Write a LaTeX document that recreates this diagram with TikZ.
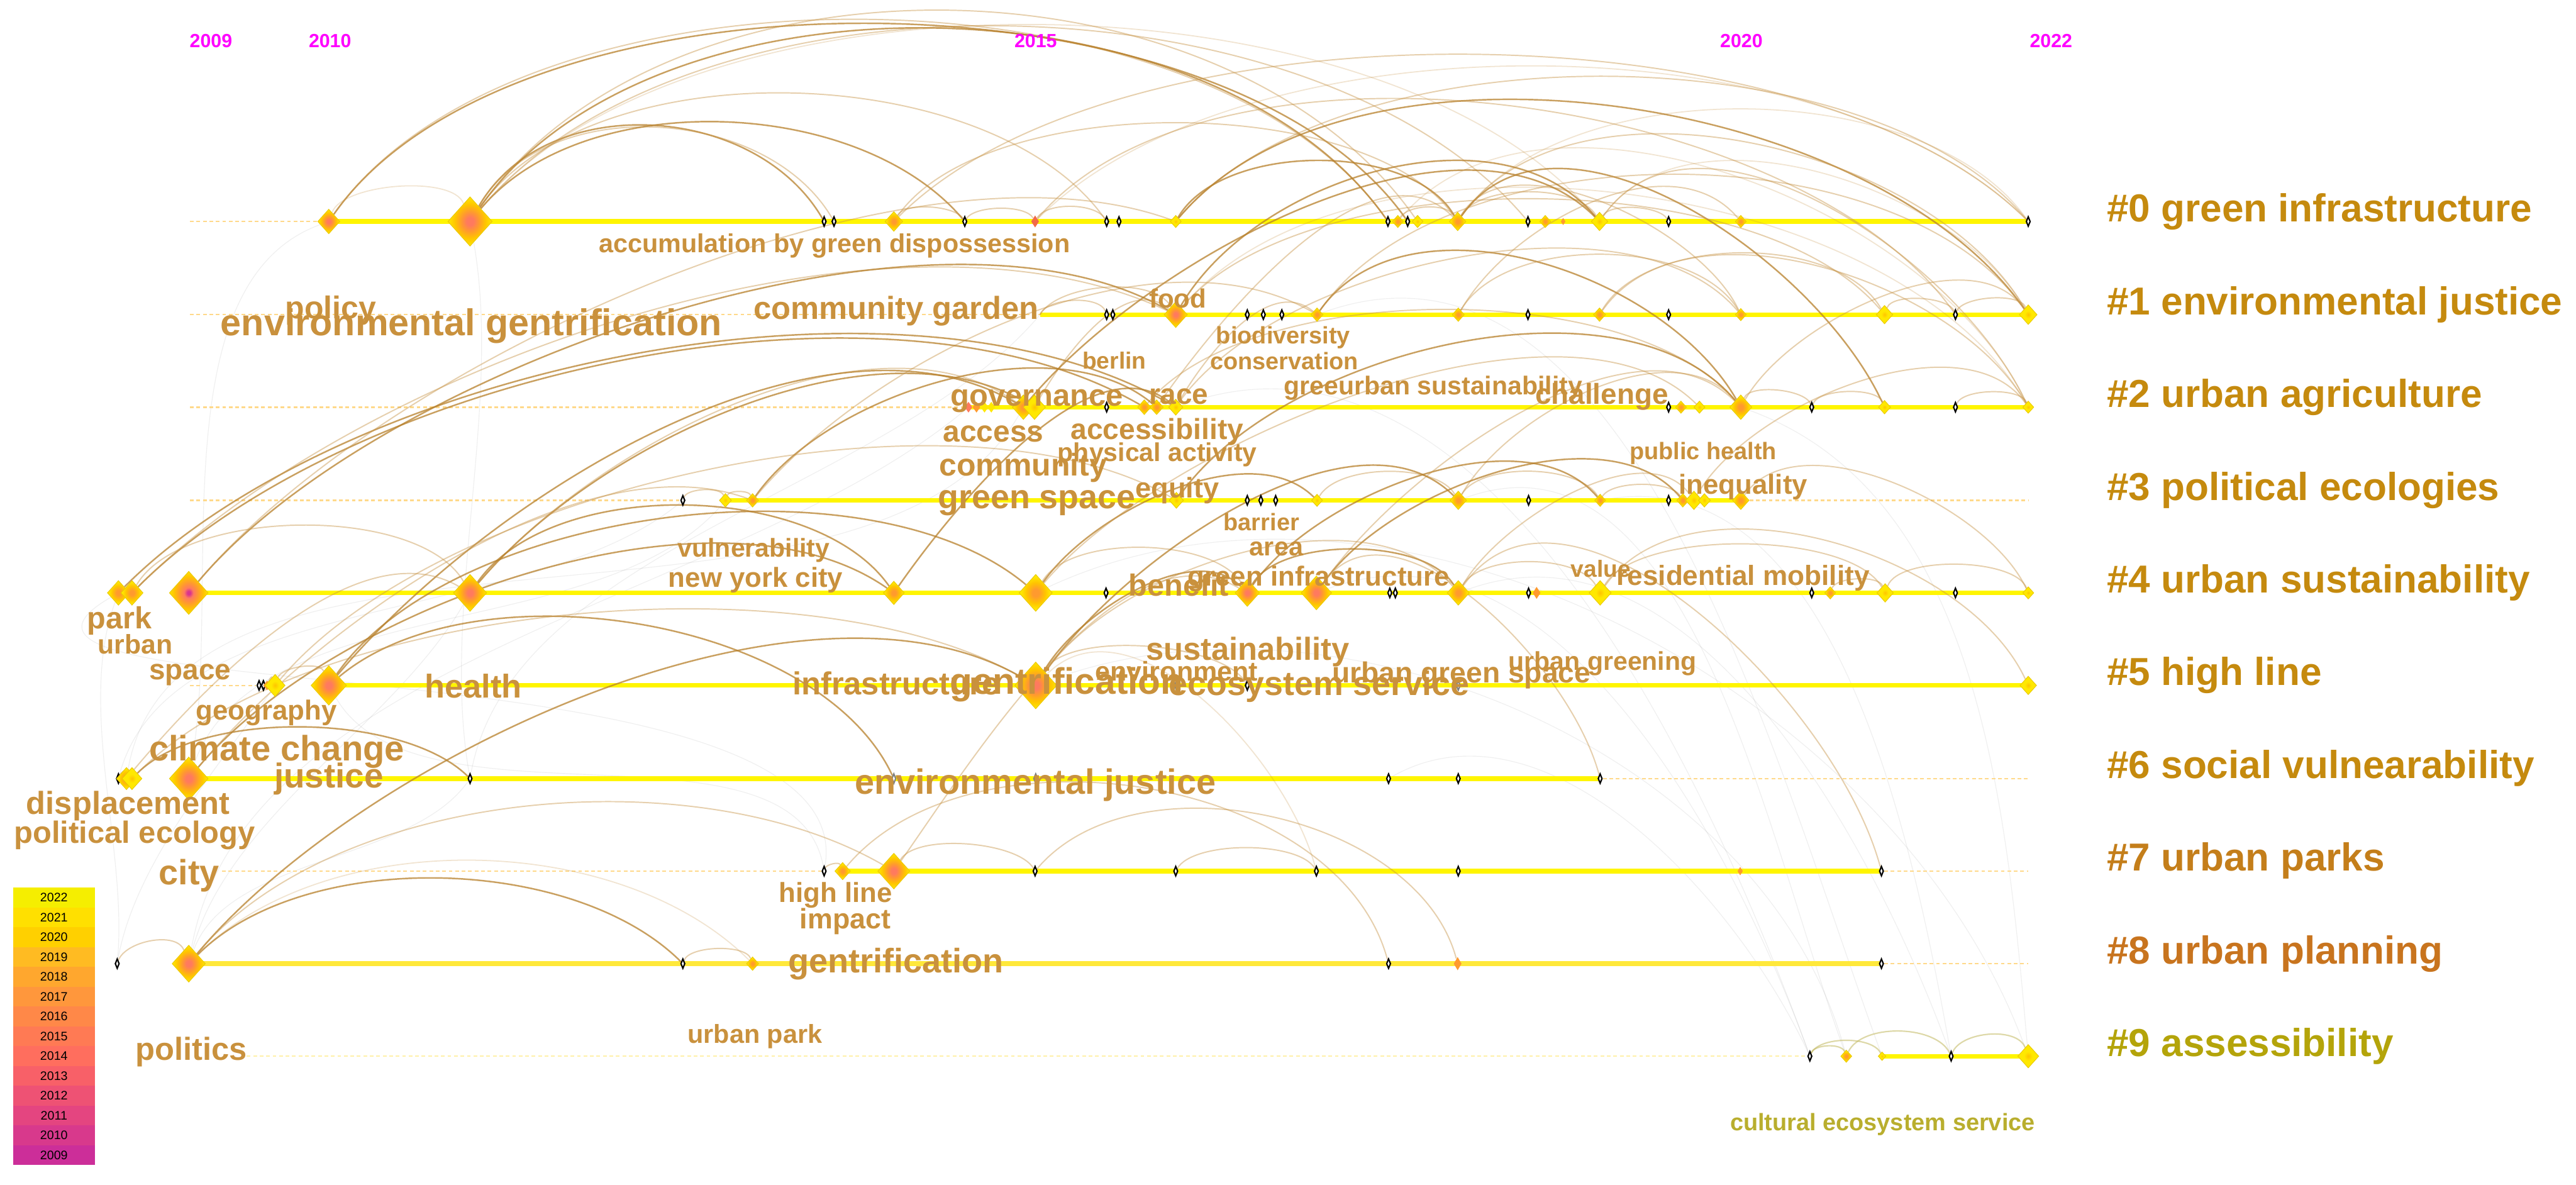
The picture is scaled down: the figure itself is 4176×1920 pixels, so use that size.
\documentclass[tikz,border=0pt]{standalone}
\usepackage{fontspec}
\setmainfont{Liberation Sans}
\usetikzlibrary{shapes.geometric}

\definecolor{cYel}{HTML}{FFE800}
\definecolor{cGold}{HTML}{FFC400}
\definecolor{cOra}{HTML}{FF9A2E}
\definecolor{cSal}{HTML}{FF7A5E}
\definecolor{cMag}{HTML}{D8338F}
\definecolor{cRed}{HTML}{F26A48}
\definecolor{cEdge}{HTML}{EBCB00}
\definecolor{cBar}{HTML}{FFF500}
\definecolor{cBarB}{HTML}{FFE83A}
\definecolor{cDash}{HTML}{FFD98A}
\definecolor{cDashB}{HTML}{FFF0A8}
\definecolor{cArc}{HTML}{C8964A}
\definecolor{cArcD}{HTML}{B8812C}
\definecolor{cKw}{HTML}{C9913D}
\definecolor{cKwOl}{HTML}{B9AE2E}
\definecolor{cOlive}{HTML}{C2B860}
\definecolor{cYear}{HTML}{FF00FF}
\definecolor{kA}{HTML}{C58A0E}
\definecolor{kB}{HTML}{C47E1A}
\definecolor{kC}{HTML}{C8741E}
\definecolor{kD}{HTML}{B4A40A}

% citation rings, centre = oldest
\pgfdeclareradialshading{ringY}{\pgfpointorigin}{color(0bp)=(cGold); color(10bp)=(cYel); color(50bp)=(cYel)}
\pgfdeclareradialshading{ringO}{\pgfpointorigin}{color(0bp)=(cOra); color(5bp)=(cOra); color(14bp)=(cGold); color(22bp)=(cYel); color(50bp)=(cYel)}
\pgfdeclareradialshading{ringR}{\pgfpointorigin}{color(0bp)=(cSal); color(4bp)=(cSal); color(10bp)=(cOra); color(17bp)=(cGold); color(25bp)=(cYel); color(50bp)=(cYel)}
\pgfdeclareradialshading{ringM}{\pgfpointorigin}{color(0bp)=(cMag); color(2bp)=(cMag); color(6bp)=(cSal); color(12bp)=(cOra); color(19bp)=(cGold); color(26bp)=(cYel); color(50bp)=(cYel)}

\pgfdeclarelayer{bg}
\pgfsetlayers{bg,main}

\begin{document}
\begin{tikzpicture}[x=0.1mm, y=-0.1mm,
  nodeY/.style={diamond, shading=ringY, draw=cEdge, line width=.1mm, inner sep=0pt, minimum height=#1mm, minimum width=.9*#1mm},
  nodeO/.style={diamond, shading=ringO, draw=cEdge, line width=.1mm, inner sep=0pt, minimum height=#1mm, minimum width=.9*#1mm},
  nodeR/.style={diamond, shading=ringR, draw=cEdge, line width=.1mm, inner sep=0pt, minimum height=#1mm, minimum width=.9*#1mm},
  nodeM/.style={diamond, shading=ringM, draw=cEdge, line width=.1mm, inner sep=0pt, minimum height=#1mm, minimum width=.9*#1mm},
  tiny/.style={diamond, draw=black, fill=white, line width=.22mm, inner sep=0pt, minimum width=.7mm, minimum height=1.6mm},
  flat/.style={diamond, fill=#1, inner sep=0pt, minimum width=1.3mm, minimum height=2mm},
  kw/.style={font=\fontsize{#1}{#1}\selectfont\bfseries, text=cKw, inner sep=0pt, anchor=west},
  clus/.style={font=\fontsize{18}{18}\selectfont\bfseries, text=#1, inner sep=0pt, anchor=base west},
  yearlab/.style={font=\fontsize{8.8}{8.8}\selectfont\bfseries, text=cYear, inner sep=0pt},
  legbox/.style={fill=#1, minimum width=13.3mm, minimum height=3.22mm, inner sep=0pt, font=\fontsize{5.7}{5.7}\selectfont},
  bar/.style={draw=cBar, line width=.75mm},
  dashlane/.style={draw=cDash, line width=.25mm, dash pattern=on .6mm off .45mm},
  arcA/.style={draw=cArcD, line width=.25mm, opacity=.75},
  arcB/.style={draw=cArc, line width=.2mm, opacity=.45},
  arcC/.style={draw=cArc, line width=.18mm, opacity=.25},
  arcJ/.style={draw=cOlive, line width=.22mm, opacity=.55},
  faint/.style={draw=gray, line width=.12mm, opacity=.12}]

\begin{pgfonlayer}{bg}
\fill[white] (0,0) rectangle (4176,1920);
\end{pgfonlayer}
\useasboundingbox (0,0) rectangle (4176,1920);

% years
\node[yearlab] (y2009) at (342,66) {2009};
\node[yearlab] (y2010) at (535,66) {2010};
\node[yearlab] (y2015) at (1679,66) {2015};
\node[yearlab] (y2020) at (2823,66) {2020};
\node[yearlab] (y2022) at (3325,66) {2022};

% lane ends
\coordinate (s0) at (308,359);
\coordinate (s1) at (308,510);
\coordinate (b0) at (1686,510);
\coordinate (s2) at (308,660);
\coordinate (s3) at (308,811);
\coordinate (t3) at (3288,811);
\coordinate (s5) at (308,1111);
\coordinate (t6) at (3288,1262);
\coordinate (s7) at (360,1412);
\coordinate (t7) at (3288,1412);
\coordinate (t8) at (3288,1562);
\coordinate (s9) at (400,1712);

% #0
\node[nodeR=4.0] (a1) at (533,359) {};
\node[nodeR=8.0] (a2) at (762,359) {};
\node[tiny] (a3) at (1336,359) {};
\node[tiny] (a4) at (1352,359) {};
\node[nodeO=3.2] (a5) at (1449,359) {};
\node[tiny] (a6) at (1564,359) {};
\node[flat=cRed] (a7) at (1678,359) {};
\node[tiny] (a8) at (1794,359) {};
\node[tiny] (a9) at (1814,359) {};
\node[nodeY=2.0] (a10) at (1906,359) {};
\node[tiny] (a11) at (2250,359) {};
\node[nodeO=2.0] (a12) at (2266,359) {};
\node[tiny] (a13) at (2282,359) {};
\node[nodeY=2.0] (a14) at (2298,359) {};
\node[nodeO=3.0] (a15) at (2363,359) {};
\node[tiny] (a16) at (2477,359) {};
\node[nodeO=2.0] (a17) at (2505,359) {};
\node[flat=cOra, minimum height=1.2mm, minimum width=.8mm] (a18) at (2534,359) {};
\node[nodeY=3.0] (a19) at (2593,359) {};
\node[tiny] (a20) at (2705,359) {};
\node[nodeO=2.0] (a21) at (2822,359) {};
\node[tiny] (a22) at (3288,359) {};

% #1
\node[tiny] (b1) at (1794,510) {};
\node[tiny] (b2) at (1804,510) {};
\node[nodeR=4.2] (b3) at (1906,510) {};
\node[tiny] (b4) at (2022,510) {};
\node[tiny] (b5) at (2048,510) {};
\node[tiny] (b6) at (2078,510) {};
\node[nodeO=2.2] (b7) at (2135,510) {};
\node[nodeO=2.2] (b8) at (2364,510) {};
\node[tiny] (b9) at (2477,510) {};
\node[nodeO=2.2] (b10) at (2593,510) {};
\node[tiny] (b11) at (2705,510) {};
\node[nodeO=2.0] (b12) at (2822,510) {};
\node[nodeY=3.0] (b13) at (3055,510) {};
\node[tiny] (b14) at (3170,510) {};
\node[nodeY=3.2] (b15) at (3288,510) {};

% #2
\node[flat=cSal, minimum height=1.8mm] (c1) at (1570,660) {};
\node[flat=cOra, minimum height=1.8mm] (c2) at (1583,660) {};
\node[flat=cYel, minimum height=1.8mm] (c3) at (1596,660) {};
\node[flat=cYel, minimum height=1.8mm] (c4) at (1607,660) {};
\node[nodeO=4.0] (c5) at (1659,660) {};
\node[nodeY=4.0] (c6) at (1677,660) {};
\node[tiny] (c7) at (1794,660) {};
\node[nodeO=2.4] (c8) at (1855,660) {};
\node[nodeO=2.4] (c9) at (1875,660) {};
\node[nodeY=2.6] (c10) at (1906,660) {};
\node[tiny] (c11) at (2705,660) {};
\node[nodeO=2.0] (c12) at (2725,660) {};
\node[nodeY=2.0] (c13) at (2755,660) {};
\node[nodeO=4.0] (c14) at (2822,660) {};
\node[tiny] (c15) at (2937,660) {};
\node[nodeY=2.2] (c16) at (3055,660) {};
\node[tiny] (c17) at (3170,660) {};
\node[nodeY=2.0] (c18) at (3288,660) {};

% #3
\node[tiny] (d1) at (1107,811) {};
\node[nodeY=2.2] (d2) at (1176,811) {};
\node[nodeO=2.2] (d3) at (1220,811) {};
\node[nodeY=2.6] (d4) at (1907,811) {};
\node[tiny] (d5) at (2022,811) {};
\node[tiny] (d6) at (2044,811) {};
\node[tiny] (d7) at (2068,811) {};
\node[nodeY=2.0] (d8) at (2135,811) {};
\node[nodeO=3.0] (d9) at (2364,811) {};
\node[tiny] (d10) at (2478,811) {};
\node[nodeO=2.0] (d11) at (2594,811) {};
\node[tiny] (d12) at (2705,811) {};
\node[nodeO=2.2] (d13) at (2728,811) {};
\node[nodeY=3.0] (d14) at (2746,811) {};
\node[nodeY=2.2] (d15) at (2763,811) {};
\node[nodeO=3.0] (d16) at (2822,811) {};

% #4
\node[nodeO=4.0] (e1) at (192,961) {};
\node[nodeO=4.0] (e2) at (214,961) {};
\node[nodeM=7.0] (e3) at (306,961) {};
\node[nodeR=6.0] (e4) at (762,961) {};
\node[nodeO=3.8] (e5) at (1449,961) {};
\node[nodeO=6.0] (e6) at (1679,961) {};
\node[tiny] (e7) at (1793,961) {};
\node[nodeR=4.4] (e8) at (2022,961) {};
\node[nodeR=5.5] (e9) at (2134,961) {};
\node[tiny] (e10) at (2253,961) {};
\node[tiny] (e11) at (2262,961) {};
\node[nodeO=4.0] (e12) at (2364,961) {};
\node[tiny] (e13) at (2478,961) {};
\node[flat=cOra] (e14) at (2491,961) {};
\node[nodeY=4.0] (e15) at (2594,961) {};
\node[tiny] (e16) at (2937,961) {};
\node[nodeO=2.0] (e17) at (2967,961) {};
\node[nodeY=3.0] (e18) at (3056,961) {};
\node[tiny] (e19) at (3170,961) {};
\node[nodeY=2.0] (e20) at (3288,961) {};

% #5
\node[tiny] (f1) at (420,1111) {};
\node[tiny] (f2) at (427,1111) {};
\node[flat=cOra, minimum height=1.6mm] (f3) at (433,1111) {};
\node[nodeY=3.6] (f4) at (446,1111) {};
\node[nodeR=6.4] (f5) at (533,1111) {};
\node[nodeR=7.6] (f6) at (1679,1111) {};
\node[tiny, draw=gray] (f7) at (1907,1111) {};
\node[tiny] (f8) at (2022,1111) {};
\node[tiny, draw=gray] (f9) at (2364,1111) {};
\node[nodeY=3.0] (f10) at (3288,1111) {};

% #6
\node[tiny, fill=black] (g1) at (192,1262) {};
\node[nodeO=3.6] (g2) at (205,1262) {};
\node[nodeY=3.6] (g3) at (214,1262) {};
\node[nodeR=7.0] (g4) at (306,1262) {};
\node[tiny] (g5) at (762,1262) {};
\node[tiny, draw=gray] (g6) at (1449,1262) {};
\node[tiny, draw=gray] (g7) at (1679,1262) {};
\node[tiny] (g8) at (2251,1262) {};
\node[tiny] (g9) at (2364,1262) {};
\node[tiny] (g10) at (2594,1262) {};

% #7
\node[tiny] (h1) at (1336,1412) {};
\node[nodeO=2.8] (h2) at (1366,1412) {};
\node[nodeR=5.8] (h3) at (1449,1412) {};
\node[tiny] (h4) at (1678,1412) {};
\node[tiny] (h5) at (1906,1412) {};
\node[tiny] (h6) at (2134,1412) {};
\node[tiny] (h7) at (2364,1412) {};
\node[flat=cOra, minimum height=1.4mm, minimum width=.9mm] (h8) at (2821,1412) {};
\node[tiny] (h9) at (3050,1412) {};

% #8
\node[tiny] (i1) at (190,1562) {};
\node[nodeR=6.0] (i2) at (306,1562) {};
\node[tiny] (i3) at (1107,1562) {};
\node[nodeO=2.2] (i4) at (1220,1562) {};
\node[tiny] (i5) at (2251,1562) {};
\node[flat=cOra, minimum height=2.2mm] (i6) at (2363,1562) {};
\node[tiny] (i7) at (3050,1562) {};

% #9
\node[tiny] (j1) at (2934,1712) {};
\node[nodeO=2.0] (j2) at (2993,1712) {};
\node[nodeY=1.4] (j3) at (3051,1712) {};
\node[tiny] (j4) at (3163,1712) {};
\node[nodeY=3.8] (j5) at (3288,1712) {};

\begin{pgfonlayer}{bg}
% background co-citation traces
\draw[faint] (g4) to[out=80,in=200,looseness=.8] (a1);
\draw[faint] (i1) to[out=85,in=250,looseness=.8] (e1);
\draw[faint] (g1) to[out=75,in=220,looseness=.8] (d1);
\draw[faint] (h1) to[out=80,in=210,looseness=.8] (e1);
\draw[faint] (i2) to[out=80,in=220,looseness=.8] (c1);
\draw[faint] (g5) to[out=80,in=230,looseness=.8] (b0);
\draw[faint] (i2) to[out=75,in=240,looseness=.8] (e4);
\draw[faint] (g4) to[out=70,in=230,looseness=.8] (d2);
\draw[faint] (i1) to[out=80,in=235,looseness=.8] (f4);
\draw[faint] (g2) to[out=80,in=240,looseness=.8] (c5);
\draw[faint] (i2) to[out=70,in=235,looseness=.8] (g5);
\draw[faint] (h1) to[out=100,in=300,looseness=.8] (f5);
\draw[faint] (c10) to[out=20,in=110,looseness=.9] (j1);
\draw[faint] (e9) to[out=20,in=110,looseness=.9] (j1);
\draw[faint] (d9) to[out=20,in=110,looseness=.9] (j2);
\draw[faint] (b7) to[out=20,in=110,looseness=.9] (j3);
\draw[faint] (e12) to[out=20,in=110,looseness=.9] (j4);
\draw[faint] (g8) to[out=30,in=115,looseness=.9] (j1);
\draw[faint] (f6) to[out=20,in=105,looseness=.9] (j2);
\draw[faint] (e6) to[out=25,in=110,looseness=.9] (j5);
\draw[faint] (a2) to[out=-80,in=100,looseness=.8] (g5);
\draw[faint] (d11) to[out=10,in=100,looseness=.9] (j4);
\draw[faint] (c14) to[out=-20,in=95,looseness=.9] (j5);

% lanes
\draw[dashlane] (s0) -- (a1);
\draw[dashlane] (s1) -- (b0);
\draw[dashlane] (s2) -- (c1);
\draw[dashlane] (s3) -- (d1);
\draw[dashlane] (d16) -- (t3);
\draw[dashlane] (s5) -- (f1);
\draw[dashlane] (g10) -- (t6);
\draw[dashlane] (s7) -- (h1);
\draw[dashlane] (h9) -- (t7);
\draw[dashlane] (i7) -- (t8);
\draw[dashlane, draw=cDashB] (s9) -- (j1);
\draw[bar] (a1.center) -- (a22.center);
\draw[bar] (b0) -- (b15.center);
\draw[bar] (c1.center) -- (c18.center);
\draw[bar] (d2.center) -- (d16.center);
\draw[bar] (e3.center) -- (e20.center);
\draw[bar] (f5.center) -- (f10.center);
\draw[bar] (g4.center) -- (g10.center);
\draw[bar] (h2.center) -- (h9.center);
\draw[bar, draw=cBarB] (i2.center) -- (i7.center);
\draw[bar] (j3.center) -- (j5.center);

% links within #0
\draw[arcA] (a1) to[out=55,in=125,looseness=.75] (a13);
\draw[arcB] (a1) to[out=55,in=125,looseness=.78] (a11);
\draw[arcC] (a1) to[out=70,in=110,looseness=.6] (a2);
\draw[arcA] (a2) to[out=60,in=120,looseness=1] (a3);
\draw[arcB] (a2) to[out=60,in=120,looseness=.95] (a4);
\draw[arcA] (a2) to[out=50,in=130,looseness=.85] (a6);
\draw[arcB] (a2) to[out=55,in=125,looseness=.8] (a8);
\draw[arcA] (a2) to[out=55,in=125,looseness=.85] (a11);
\draw[arcB] (a2) to[out=55,in=125,looseness=.9] (a14);
\draw[arcB] (a2) to[out=50,in=130,looseness=.8] (a16);
\draw[arcC] (a2) to[out=50,in=130,looseness=.75] (a19);
\draw[arcB] (a5) to[out=60,in=120,looseness=.6] (a6);
\draw[arcB] (a6) to[out=60,in=120,looseness=.6] (a7);
\draw[arcB] (a7) to[out=60,in=120,looseness=.7] (a8);
\draw[arcB] (a5) to[out=55,in=125,looseness=.7] (a15);
\draw[arcA] (a10) to[out=60,in=120,looseness=.8] (a15);
\draw[arcB] (a12) to[out=60,in=120,looseness=.7] (a15);
\draw[arcB] (a15) to[out=60,in=120,looseness=.7] (a19);
\draw[arcB] (a19) to[out=60,in=120,looseness=.6] (a20);
\draw[arcB] (a5) to[out=45,in=135,looseness=.7] (a22);
\draw[arcC] (a7) to[out=45,in=135,looseness=.75] (a22);
\draw[arcB] (a10) to[out=50,in=130,looseness=.75] (a22);
\draw[arcC] (a15) to[out=55,in=125,looseness=.8] (a22);
\draw[arcB] (a7) to[out=50,in=125,looseness=.75] (b14);
\draw[arcA] (a10) to[out=50,in=125,looseness=.8] (b15);
\draw[arcB] (a15) to[out=55,in=120,looseness=.85] (b15);
\draw[arcC] (a19) to[out=55,in=120,looseness=.85] (b15);
\draw[arcA] (a15) to[out=55,in=115,looseness=.9] (c16);
\draw[arcB] (a19) to[out=55,in=115,looseness=.9] (c18);
\draw[arcC] (a12) to[out=50,in=115,looseness=.85] (c18);
\draw[arcB] (a15) to[out=60,in=115,looseness=.8] (b12);

% links within #1 and #2
\draw[arcB] (b0) to[out=70,in=110,looseness=.7] (b1);
\draw[arcB] (b0) to[out=60,in=120,looseness=.7] (b3);
\draw[arcB] (b3) to[out=50,in=130,looseness=.7] (b13);
\draw[arcB] (b7) to[out=55,in=125,looseness=.8] (b15);
\draw[arcC] (b3) to[out=50,in=120,looseness=.8] (c18);
\draw[arcB] (b10) to[out=55,in=120,looseness=.85] (c18);
\draw[arcA] (b7) to[out=55,in=120,looseness=.9] (c14);
\draw[arcB] (b8) to[out=60,in=120,looseness=.8] (b12);
\draw[arcB] (b10) to[out=60,in=120,looseness=.8] (b13);
\draw[arcB] (b13) to[out=70,in=110,looseness=.6] (b14);
\draw[arcB] (b14) to[out=70,in=110,looseness=.6] (b15);
\draw[arcA] (b3) to[out=60,in=130,looseness=.9] (a19);
\draw[arcB] (b8) to[out=60,in=130,looseness=.9] (a21);
\draw[arcB] (c14) to[out=70,in=110,looseness=.6] (c15);
\draw[arcB] (c15) to[out=70,in=110,looseness=.6] (c16);
\draw[arcB] (c17) to[out=70,in=110,looseness=.6] (c18);
\draw[arcB] (c6) to[out=60,in=140,looseness=.9] (b3);
\draw[arcB] (c10) to[out=60,in=140,looseness=.9] (b7);
\draw[arcB] (c10) to[out=55,in=130,looseness=.75] (b12);
\draw[arcA] (c5) to[out=50,in=135,looseness=.8] (a19);
\draw[arcB] (c9) to[out=55,in=135,looseness=.85] (a15);
\draw[arcB] (c14) to[out=60,in=125,looseness=.8] (b15);
\draw[arcB] (c8) to[out=50,in=130,looseness=.7] (c14);

% links within #3
\draw[arcA] (d4) to[out=55,in=130,looseness=.8] (c14);
\draw[arcB] (d8) to[out=60,in=120,looseness=.7] (d9);
\draw[arcB] (d9) to[out=60,in=120,looseness=.7] (d11);
\draw[arcB] (d11) to[out=60,in=120,looseness=.6] (d13);
\draw[arcB] (d9) to[out=60,in=130,looseness=.85] (c14);
\draw[arcA] (d3) to[out=55,in=140,looseness=.8] (c9);
\draw[arcB] (d3) to[out=50,in=150,looseness=.8] (b7);
\draw[arcB] (d2) to[out=70,in=110,looseness=.6] (d3);
\draw[arcB] (d1) to[out=70,in=110,looseness=.6] (d2);
\draw[arcB] (d14) to[out=60,in=125,looseness=.8] (c18);
\draw[arcB] (d16) to[out=55,in=115,looseness=.8] (e20);

% links within #4
\draw[arcA] (e1) to[out=45,in=150,looseness=.75] (c10);
\draw[arcA] (e2) to[out=45,in=150,looseness=.75] (c8);
\draw[arcB] (e2) to[out=45,in=155,looseness=.75] (b3);
\draw[arcA] (e3) to[out=50,in=150,looseness=.7] (b3);
\draw[arcB] (e3) to[out=50,in=160,looseness=.7] (a10);
\draw[arcB] (e2) to[out=60,in=120,looseness=.7] (e4);
\draw[arcA] (e4) to[out=50,in=150,looseness=.8] (c6);
\draw[arcB] (e4) to[out=50,in=145,looseness=.8] (c5);
\draw[arcA] (e5) to[out=55,in=140,looseness=.8] (c10);
\draw[arcA] (e6) to[out=55,in=135,looseness=.8] (d8);
\draw[arcB] (e6) to[out=50,in=135,looseness=.7] (c13);
\draw[arcB] (e6) to[out=60,in=120,looseness=.7] (e8);
\draw[arcA] (e8) to[out=55,in=130,looseness=.8] (d11);
\draw[arcA] (e9) to[out=55,in=130,looseness=.8] (d13);
\draw[arcB] (e9) to[out=55,in=135,looseness=.8] (c14);
\draw[arcB] (e12) to[out=60,in=125,looseness=.8] (d14);
\draw[arcB] (e12) to[out=60,in=120,looseness=.7] (e15);
\draw[arcB] (e15) to[out=60,in=120,looseness=.6] (e18);
\draw[arcB] (e17) to[out=70,in=110,looseness=.6] (e18);
\draw[arcB] (e18) to[out=70,in=110,looseness=.6] (e20);
\draw[arcB] (e15) to[out=55,in=115,looseness=.85] (f10);
\draw[arcB] (e12) to[out=55,in=105,looseness=.9] (h9);
\draw[arcB] (e9) to[out=55,in=105,looseness=.9] (g10);
\draw[arcA] (e8) to[out=60,in=120,looseness=.7] (e12);
\draw[arcA] (e4) to[out=55,in=125,looseness=.8] (e5);

% links within #5 and #6
\draw[arcA] (f5) to[out=50,in=150,looseness=.8] (c5);
\draw[arcB] (f4) to[out=50,in=150,looseness=.7] (d4);
\draw[arcA] (f5) to[out=55,in=140,looseness=.75] (e6);
\draw[arcA] (f6) to[out=60,in=135,looseness=.8] (e8);
\draw[arcA] (f6) to[out=55,in=135,looseness=.8] (d9);
\draw[arcB] (f6) to[out=55,in=130,looseness=.8] (e12);
\draw[arcA] (f5) to[out=40,in=115,looseness=.8] (g6);
\draw[arcB] (f3) to[out=70,in=110,looseness=.8] (f4);
\draw[arcB] (f4) to[out=70,in=110,looseness=.6] (f5);
\draw[arcB] (f6) to[out=60,in=120,looseness=.6] (f8);
\draw[arcC] (f6) to[out=45,in=105,looseness=.9] (h6);
\draw[arcA] (g3) to[out=45,in=135,looseness=.7] (g5);
\draw[arcB] (g1) to[out=70,in=110,looseness=.8] (g3);
\draw[arcA] (g4) to[out=50,in=145,looseness=.75] (e5);
\draw[arcB] (g3) to[out=45,in=150,looseness=.7] (f6);
\draw[arcB] (g2) to[out=50,in=150,looseness=.8] (e4);
\draw[arcB] (g4) to[out=50,in=160,looseness=.75] (d3);

% links within #7 and #8
\draw[arcB] (h1) to[out=70,in=110,looseness=.6] (h2);
\draw[arcB] (h3) to[out=55,in=150,looseness=.8] (e8);
\draw[arcB] (h3) to[out=60,in=120,looseness=.6] (h4);
\draw[arcB] (h5) to[out=60,in=120,looseness=.6] (h6);
\draw[arcB] (h2) to[out=50,in=105,looseness=.9] (i5);
\draw[arcB] (h4) to[out=50,in=105,looseness=.9] (i6);
\draw[arcA] (i2) to[out=45,in=135,looseness=.8] (i3);
\draw[arcC] (i2) to[out=45,in=135,looseness=.85] (i4);
\draw[arcB] (i1) to[out=70,in=110,looseness=.8] (i2);
\draw[arcB] (i3) to[out=70,in=110,looseness=.6] (i4);
\draw[arcA] (i2) to[out=50,in=150,looseness=.75] (f6);
\draw[arcB] (i2) to[out=50,in=150,looseness=.8] (h3);

% links within #9
\draw[arcJ] (j1) to[out=70,in=110,looseness=.7] (j2);
\draw[arcJ] (j1) to[out=65,in=115,looseness=.7] (j3);
\draw[arcJ] (j2) to[out=65,in=115,looseness=.8] (j4);
\draw[arcJ] (j4) to[out=70,in=110,looseness=.8] (j5);
\end{pgfonlayer}

% keyword labels
\node[kw=12.0] (lAcc) at (970,399) {accumulation by green dispossession};
\node[kw=17.2] (lEnvG) at (357,528) {environmental gentrification};
\node[kw=14.5] (lPolicy) at (462,503) {policy};
\node[kw=14.7] (lComG) at (1221,504) {community garden};
\node[kw=12.2] (lFood) at (1862,484) {food};
\node[kw=10.8] (lBerlin) at (1754,584) {berlin};
\node[kw=11.0] (lBio) at (1971,547) {biodiversity};
\node[kw=11.0] (lCons) at (1961,585) {conservation};
\node[kw=14.2] (lGov) at (1540,650) {governance};
\node[kw=13.3] (lRace) at (1862,643) {race};
\node[kw=11.9] (lGreeu) at (2081,629) {greeurban sustainability};
\node[kw=13.3] (lChal) at (2488,643) {challenge};
\node[kw=13.9] (lAccess) at (1528,703) {access};
\node[kw=13.4] (lAccessb) at (1735,700) {accessibility};
\node[kw=11.9] (lPhys) at (1714,737) {physical activity};
\node[kw=14.5] (lComm) at (1522,758) {community};
\node[kw=15.6] (lGreenS) at (1520,815) {green space};
\node[kw=13.1] (lEquity) at (1840,795) {equity};
\node[kw=11.0] (lPubH) at (2641,735) {public health};
\node[kw=12.7] (lIneq) at (2721,789) {inequality};
\node[kw=11.9] (lVuln) at (1098,892) {vulnerability};
\node[kw=12.7] (lNYC) at (1083,940) {new york city};
\node[kw=11.0] (lBarr) at (1983,846) {barrier};
\node[kw=12.0] (lArea) at (2025,890) {area};
\node[kw=14.1] (lBen) at (1829,948) {benefit};
\node[kw=12.7] (lGInf) at (1925,938) {green infrastructure};
\node[kw=10.8] (lValue) at (2546,922) {value};
\node[kw=12.8] (lResM) at (2620,937) {residential mobility};
\node[kw=14.1] (lPark) at (141,1006) {park};
\node[kw=12.4] (lUrban) at (158,1044) {urban};
\node[kw=13.3] (lSpace) at (241,1094) {space};
\node[kw=12.7] (lGeo) at (317,1155) {geography};
\node[kw=15.2] (lHealth) at (688,1112) {health};
\node[kw=14.7] (lInfra) at (1284,1108) {infrastructure};
\node[kw=17.0] (lGentA) at (1539,1110) {gentrification};
\node[kw=14.7] (lSust) at (1857,1057) {sustainability};
\node[kw=12.5] (lEnv) at (1775,1088) {environment};
\node[kw=15.6] (lEco) at (1894,1113) {ecosystem service};
\node[kw=13.4] (lUGS) at (2159,1095) {urban green space};
\node[kw=11.9] (lUGr) at (2445,1076) {urban greening};
\node[kw=16.3] (lClim) at (241,1218) {climate change};
\node[kw=15.9] (lJust) at (444,1262) {justice};
\node[kw=14.7] (lDisp) at (42,1306) {displacement};
\node[kw=14.2] (lPolE) at (22,1354) {political ecology};
\node[kw=16.2] (lEnvJ) at (1385,1272) {environmental justice};
\node[kw=16.2] (lCity) at (257,1419) {city};
\node[kw=12.7] (lHigh) at (1262,1451) {high line};
\node[kw=13.0] (lImp) at (1296,1493) {impact};
\node[kw=15.7] (lGentB) at (1277,1563) {gentrification};
\node[kw=14.7] (lPoli) at (219,1705) {politics};
\node[kw=12.0] (lUPark) at (1114,1680) {urban park};
\node[kw=11.0, text=cKwOl] (lCES) at (2804,1823) {cultural ecosystem service};

% cluster labels
\node[clus=kA] (k0) at (3415,359) {\#0 green infrastructure};
\node[clus=kA] (k1) at (3415,510) {\#1 environmental justice};
\node[clus=kA] (k2) at (3415,660) {\#2 urban agriculture};
\node[clus=kA] (k3) at (3415,811) {\#3 political ecologies};
\node[clus=kA] (k4) at (3415,961) {\#4 urban sustainability};
\node[clus=kA] (k5) at (3415,1111) {\#5 high line};
\node[clus=kA] (k6) at (3415,1262) {\#6 social vulnearability};
\node[clus=kB] (k7) at (3415,1412) {\#7 urban parks};
\node[clus=kC] (k8) at (3415,1562) {\#8 urban planning};
\node[clus=kD] (k9) at (3415,1712) {\#9 assessibility};

% year legend
\foreach \yr/\col [count=\i] in {2022/F5EE00, 2021/FFE000, 2020/FFD000, 2019/FFBB22, 2018/FFA72E, 2017/FF973C, 2016/FF8848, 2015/FF7A54, 2014/FF6E5E, 2013/F86068, 2012/EE5274, 2011/E44580, 2010/D8398C, 2009/CC2E99}{
  \definecolor{legc}{HTML}{\col}
  \node[legbox=legc] (leg\yr) at (87.5,{1455+32.1*(\i-1)}) {\yr};
}
\end{tikzpicture}
\end{document}
